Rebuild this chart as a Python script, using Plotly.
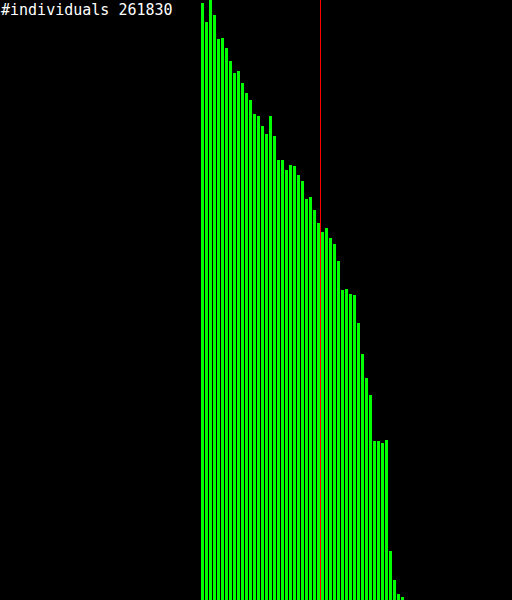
import plotly.graph_objects as go

# bar heights (px units of a 0..600 scale)
bin_index = list(range(51))
counts = [597, 578, 600, 585, 561, 562, 552, 539, 527, 529,
          517, 507, 500, 486, 484, 474, 466, 484, 464, 440,
          440, 430, 435, 434, 425, 419, 401, 403, 390, 377,
          368, 372, 362, 356, 339, 310, 311, 306, 305, 277,
          246, 222, 205, 159, 159, 157, 160, 49, 20, 6, 3]
marker_position = 29.5
title_text = "#individuals 261830"

fig = go.Figure()
fig.add_trace(go.Bar(x=bin_index, y=counts, width=0.75,
                     marker=dict(color="#00ff00", line=dict(width=0))))
fig.add_shape(type="line", xref="x", yref="paper", x0=marker_position, x1=marker_position,
              y0=0, y1=1, line=dict(color="#ff0000", width=1), layer="above")
fig.add_annotation(text=title_text, xref="paper", yref="paper", x=0, y=1,
                   xanchor="left", yanchor="top", showarrow=False, borderpad=0,
                   font=dict(family="DejaVu Sans Mono", size=15, color="white"))
fig.update_layout(width=512, height=600, margin=dict(l=0, r=0, t=0, b=0),
                  paper_bgcolor="black", plot_bgcolor="black", showlegend=False,
                  bargap=0)
fig.update_xaxes(range=[-50.625, 77.375], visible=False, showgrid=False, zeroline=False)
fig.update_yaxes(range=[0, 600], visible=False, showgrid=False, zeroline=False)
fig.write_html("out.html", config={"displayModeBar": False},
               post_script="document.body.style.margin='0';document.body.style.background='black';document.body.style.overflow='hidden';")
